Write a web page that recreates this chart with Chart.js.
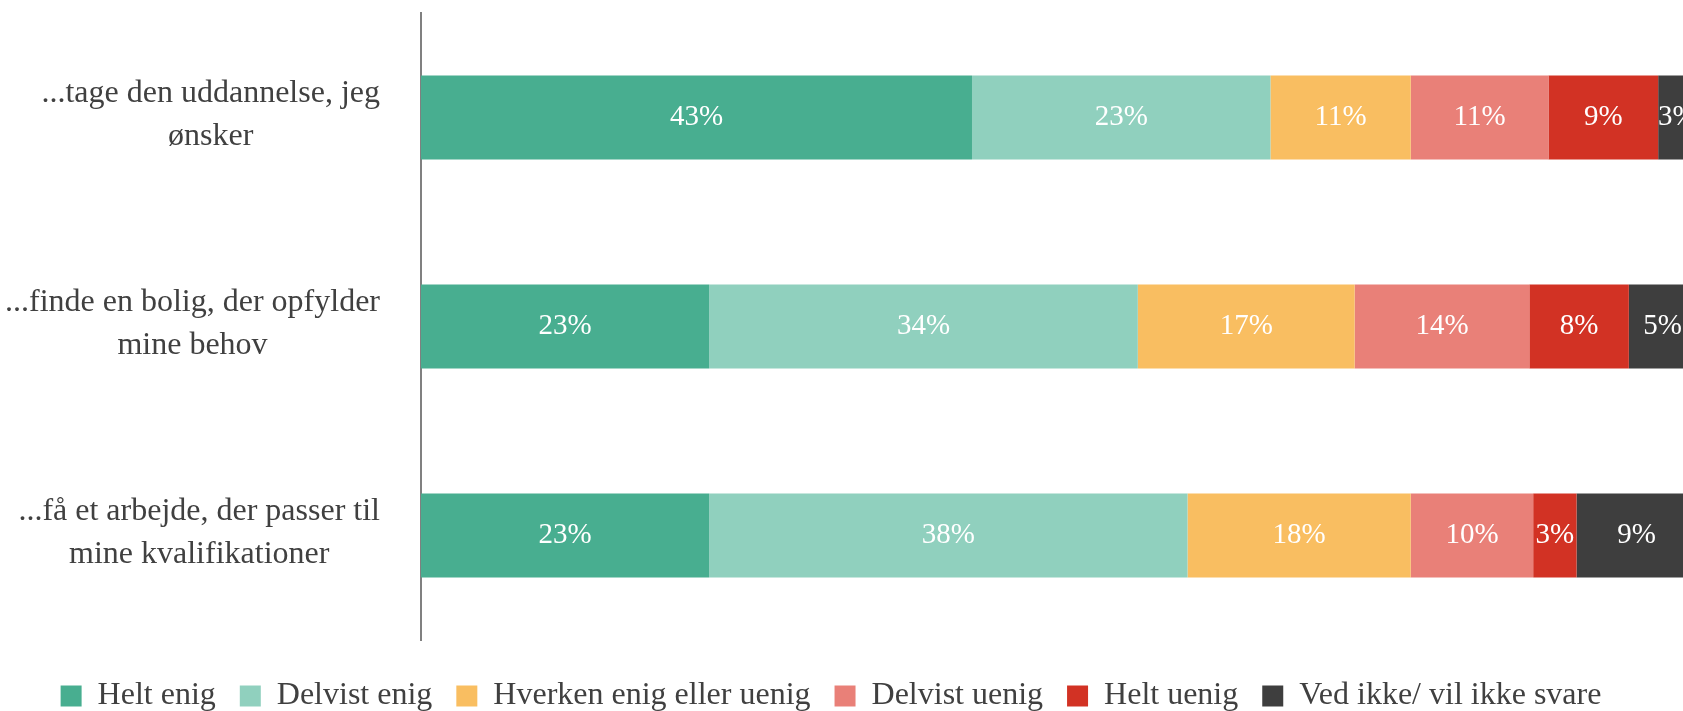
<!DOCTYPE html>
<html>
<head>
<meta charset="utf-8">
<script src="https://cdn.jsdelivr.net/npm/chart.js@4/dist/chart.umd.min.js"></script>
<style>
  html, body { margin: 0; padding: 0; background: #fff; overflow: hidden; }
  #wrap { width: 1683px; height: 711px; overflow: hidden; }
  #box { position: relative; width: 1683px; height: 722px; }
</style>
</head>
<body>
<div id="wrap"><div id="box"><canvas id="chart"></canvas></div></div>
<script>
// Données
const categories = [
  ['...tage den uddannelse, jeg', 'ønsker'],
  ['...finde en bolig, der opfylder', 'mine behov'],
  ['...få et arbejde, der passer til', 'mine kvalifikationer']
];
const series = ['Helt enig', 'Delvist enig', 'Hverken enig eller uenig', 'Delvist uenig', 'Helt uenig', 'Ved ikke/ vil ikke svare'];
const heltEnig = [43.2, 22.6, 22.6];
const delvistEnig = [23.4, 33.6, 37.5];
const hverken = [11.0, 17.0, 17.5];
const delvistUenig = [10.8, 13.7, 9.6];
const heltUenig = [8.6, 7.8, 3.4];
const vedIkke = [3.0, 5.3, 9.4];

const values = [heltEnig, delvistEnig, hverken, delvistUenig, heltUenig, vedIkke];
const colors = ['#48ae90', '#90d0be', '#f9be61', '#e98078', '#d23224', '#3e3e3e'];
const textColor = '#404040';

Chart.defaults.font.family = '"Liberation Serif", serif';

// Pourcentages au centre de chaque segment
const valueLabels = {
  id: 'valueLabels',
  afterDatasetsDraw(chart) {
    const ctx = chart.ctx;
    ctx.save();
    ctx.font = '29px "Liberation Serif"';
    ctx.fillStyle = '#ffffff';
    ctx.textAlign = 'center';
    ctx.textBaseline = 'middle';
    chart.data.datasets.forEach((ds, d) => {
      chart.getDatasetMeta(d).data.forEach((bar, i) => {
        ctx.fillText(Math.round(ds.data[i]) + '%', (bar.x + bar.base) / 2, bar.y);
      });
    });
    ctx.restore();
  }
};

// Libellés des catégories : lignes centrées, bloc aligné à droite
const categoryLabels = {
  id: 'categoryLabels',
  afterDraw(chart) {
    const ctx = chart.ctx;
    const y = chart.scales.y;
    ctx.save();
    ctx.font = '32px "Liberation Serif"';
    ctx.fillStyle = textColor;
    ctx.textAlign = 'center';
    ctx.textBaseline = 'middle';
    categories.forEach((lines, i) => {
      const widest = Math.max(...lines.map(l => ctx.measureText(l).width));
      const cx = y.right - 41 - widest / 2;
      const cy = y.getPixelForValue(i) - 2;
      lines.forEach((line, j) => {
        ctx.fillText(line, cx, cy + (j - (lines.length - 1) / 2) * 43);
      });
    });
    ctx.restore();
  }
};

new Chart(document.getElementById('chart'), {
  type: 'bar',
  data: {
    labels: categories,
    datasets: series.map((name, k) => ({
      label: name,
      data: values[k],
      backgroundColor: colors[k],
      borderWidth: 0,
      barPercentage: 0.402,
      categoryPercentage: 1,
      clip: false
    }))
  },
  options: {
    indexAxis: 'y',
    responsive: true,
    maintainAspectRatio: false,
    animation: false,
    layout: { padding: { top: 13, right: 21, bottom: 0, left: 0 } },
    scales: {
      x: {
        stacked: true,
        min: 0,
        max: 97.3,
        grid: { display: false },
        border: { display: false },
        ticks: { display: false },
        afterFit(s) { s.height = 16; }
      },
      y: {
        stacked: true,
        grid: { display: false },
        border: { color: '#808080', width: 2 },
        ticks: { display: false },
        afterFit(s) { s.width = 421; }
      }
    },
    plugins: {
      tooltip: { enabled: false },
      legend: {
        position: 'bottom',
        labels: {
          color: textColor,
          font: { size: 32 },
          boxWidth: 21,
          boxHeight: 21,
          padding: 24
        }
      }
    }
  },
  plugins: [valueLabels, categoryLabels]
});
</script>
</body>
</html>
